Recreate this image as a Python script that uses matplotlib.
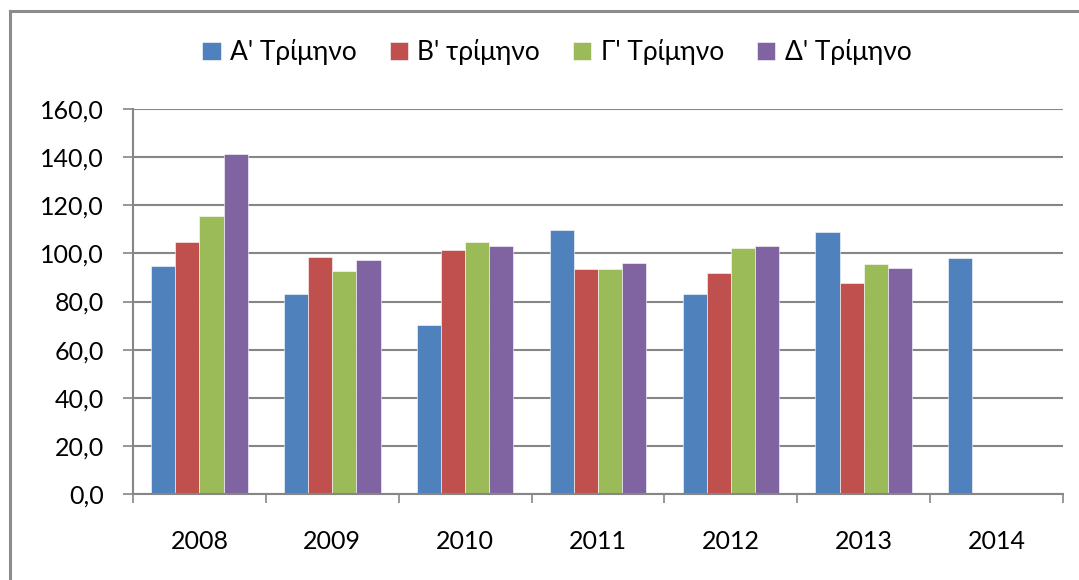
import matplotlib.pyplot as plt
import numpy as np
from matplotlib.lines import Line2D
from matplotlib.ticker import FuncFormatter, FixedLocator

plt.rcParams['font.family'] = ['Lato', 'DejaVu Sans']

years = ['2008', '2009', '2010', '2011', '2012', '2013', '2014']
series_names = ["Α' Τρίμηνο", "Β' τρίμηνο", "Γ' Τρίμηνο", "Δ' Τρίμηνο"]
q1 = [94.7, 83.2, 70.1, 109.8, 83.2, 108.8, 97.9]
q2 = [104.7, 98.6, 101.2, 93.3, 91.7, 87.8, np.nan]
q3 = [115.7, 92.6, 104.6, 93.7, 102.1, 95.4, np.nan]
q4 = [141.2, 97.1, 102.9, 96.0, 103.0, 93.8, np.nan]
colors = ['#4F81BD', '#C0504D', '#9BBB59', '#8064A2']

W, H = 1079, 580
fig = plt.figure(figsize=(W / 100, H / 100), dpi=100)

# chart frame (cropped on the right and bottom)
fig.add_artist(Line2D([9.5 / W, 9.5 / W], [0, 1 - 11 / H], color='#8c8c8c', lw=2.2))
fig.add_artist(Line2D([9.5 / W, 1], [1 - 11 / H, 1 - 11 / H], color='#8c8c8c', lw=2.2))

left, right, top, bottom = 133, 1063, 109, 494
ax = fig.add_axes([left / W, 1 - bottom / H, (right - left) / W, (bottom - top) / H])

x = np.arange(len(years))
bw = 1 / 5.5
data = [q1, q2, q3, q4]
for i, (vals, c, name) in enumerate(zip(data, colors, series_names)):
    ax.bar(x + (i - 1.5) * bw, vals, bw, color=c, label=name,
           edgecolor='white', linewidth=0.4)

ax.set_xlim(-0.5, len(years) - 0.5)
ax.set_ylim(0, 160)
ax.set_yticks(np.arange(0, 161, 20))
ax.yaxis.set_major_formatter(FuncFormatter(lambda v, p: f'{v:.1f}'.replace('.', ',')))
ax.yaxis.grid(True, color='#868686', lw=1.5)
ax.set_axisbelow(True)

ax.set_xticks(x)
ax.set_xticklabels(years)
ax.xaxis.set_minor_locator(FixedLocator(np.arange(-0.5, len(years), 1)))
ax.tick_params(axis='x', which='major', length=0, pad=26, labelsize=18)
ax.tick_params(axis='x', which='minor', length=6.5, width=1.2, color='#868686')
ax.tick_params(axis='y', length=7, width=1.2, color='#868686', labelsize=18, pad=14)

for s in ['top', 'right']:
    ax.spines[s].set_visible(False)
ax.spines['left'].set_color('#868686')
ax.spines['bottom'].set_color('#868686')
ax.spines['left'].set_linewidth(1.5)
ax.spines['bottom'].set_linewidth(1.5)

fig.legend(loc='center', bbox_to_anchor=(0.516, 1 - 52 / H), ncol=4, frameon=False,
           fontsize=19, handlelength=0.7, handleheight=0.7, handletextpad=0.35,
           columnspacing=1.25)

fig.savefig('out.png', dpi=100)
